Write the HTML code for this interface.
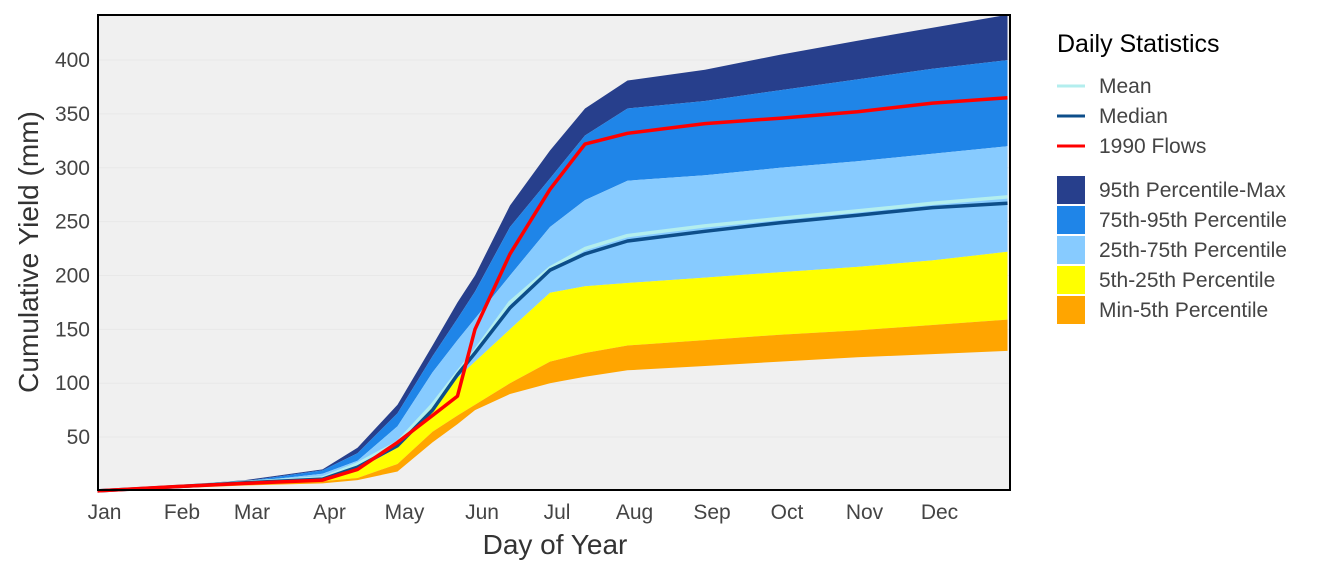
<!DOCTYPE html>
<html><head><meta charset="utf-8"><style>
body{margin:0;background:#fff;}
text{font-family:"Liberation Sans",Arial,sans-serif;}
</style></head><body>
<svg id="chart" width="1344" height="576" xmlns="http://www.w3.org/2000/svg">
<rect x="98" y="15" width="912" height="475" fill="#f0f0f0"/>
<g id="grid"></g>
<g id="bands"></g>
<g id="lines"></g>
<rect x="98" y="15" width="912" height="475" fill="none" stroke="#000" stroke-width="2"/>
<g id="axes"></g>
<text x="555" y="554" font-size="28" fill="#333" text-anchor="middle">Day of Year</text>
<text transform="translate(38,252) rotate(-90)" font-size="28" fill="#333" text-anchor="middle">Cumulative Yield (mm)</text>
<g>
<text x="1057" y="52" font-size="25" fill="#000">Daily Statistics</text>
<g><line x1="1057" y1="86" x2="1085" y2="86" stroke="#b3eeee" stroke-width="3"/><text x="1099" y="93" font-size="21" fill="#444">Mean</text></g>
<g><line x1="1057" y1="116" x2="1085" y2="116" stroke="#0d4e8a" stroke-width="3"/><text x="1099" y="123" font-size="21" fill="#444">Median</text></g>
<g><line x1="1057" y1="146" x2="1085" y2="146" stroke="#ff0000" stroke-width="3"/><text x="1099" y="153" font-size="21" fill="#444">1990 Flows</text></g>
<g><rect x="1057" y="176" width="28" height="28" fill="#273f8c"/><text x="1099" y="197" font-size="21" fill="#444">95th Percentile-Max</text></g>
<g><rect x="1057" y="206" width="28" height="28" fill="#1f85e8"/><text x="1099" y="227" font-size="21" fill="#444">75th-95th Percentile</text></g>
<g><rect x="1057" y="236" width="28" height="28" fill="#87cbff"/><text x="1099" y="257" font-size="21" fill="#444">25th-75th Percentile</text></g>
<g><rect x="1057" y="266" width="28" height="28" fill="#ffff00"/><text x="1099" y="287" font-size="21" fill="#444">5th-25th Percentile</text></g>
<g><rect x="1057" y="296" width="28" height="28" fill="#ffa500"/><text x="1099" y="317" font-size="21" fill="#444">Min-5th Percentile</text></g>
</g>
</svg>
<script>
const days=[1,32,60,91,105,121,135,145,152,166,182,196,213,244,274,305,335,365];
const maxV=[0,5,10,20,40,80,135,175,200,265,316,355,381,391,405,418,430,442];
const p95=[0,4.5,9,19,35,72,125,160,185,245,290,330,355,362,372,382,392,400];
const p75=[0,4,8,16,28,60,110,140,160,200,245,270,288,293,300,306,313,320];
const p25=[0,3.5,7,12,20,40,80,105,120,150,184,190,193,198,203,208,214,222];
const p5=[0,3,6,9,12,25,55,70,80,100,120,128,135,140,145,149,154,159];
const minV=[0,2.5,5,7,10,18,45,62,75,90,100,106,112,116,120,124,127,130];
const meanV=[0,4,8,12,25,45,80,110,130,175,207,225,237,246,253,260,267,273];
const medianV=[0,3.8,7.5,11,22,42,75,108,128,170,205,220,232,241,249,256,263,267];
const flow1990=[0,4,7,10,20,45,70,88,150,220,280,322,332,341,346,352,360,365];
const monthLabels=["Jan","Feb","Mar","Apr","May","Jun","Jul","Aug","Sep","Oct","Nov","Dec"];
const monthDays=[1,32,60,91,121,152,182,213,244,274,305,335];
const yTicks=[50,100,150,200,250,300,350,400];
const NS="http://www.w3.org/2000/svg";
const X=d=>97.5+(d-1)*2.5;
const Y=v=>490.9-v*1.0771;
function mk(tag,attrs,parent){const e=document.createElementNS(NS,tag);for(const k in attrs)e.setAttribute(k,attrs[k]);document.getElementById(parent).appendChild(e);return e;}
function pts(arr){return days.map((d,i)=>X(d).toFixed(1)+","+Y(arr[i]).toFixed(1));}
const bandDefs=[[maxV,p95,"#273f8c","band-95-max"],[p95,p75,"#1f85e8","band-75-95"],[p75,p25,"#87cbff","band-25-75"],[p25,p5,"#ffff00","band-5-25"],[p5,minV,"#ffa500","band-min-5"]];
bandDefs.forEach(b=>{
 const p=mk("polygon",{points:pts(b[0]).concat(pts(b[1]).reverse()).join(" "),fill:b[2]},"bands");
 
 
});
const lineDefs=[[meanV,"#b3eeee","mean-line"],[medianV,"#0d4e8a","median-line"],[flow1990,"#ff0000","flow-1990-line"]];
lineDefs.forEach(l=>{
 const p=mk("polyline",{points:pts(l[0]).join(" "),fill:"none",stroke:l[1],"stroke-width":3.5,"stroke-linejoin":"round"},"lines");
 
 
});
yTicks.forEach(v=>{
 const g=mk("line",{x1:98,x2:1010,y1:Y(v),y2:Y(v),stroke:"#e8e8e8","stroke-width":1},"grid");
 
 
 const t=mk("text",{x:90,y:Y(v)+7,"font-size":21,fill:"#444","text-anchor":"end"},"axes");
 t.textContent=v;
 
 
});
monthDays.forEach((d,i)=>{
 const t=mk("text",{x:X(d)+7,y:519,"font-size":21,fill:"#444","text-anchor":"middle"},"axes");
 t.textContent=monthLabels[i];
 
 
});
</script>
</body></html>
